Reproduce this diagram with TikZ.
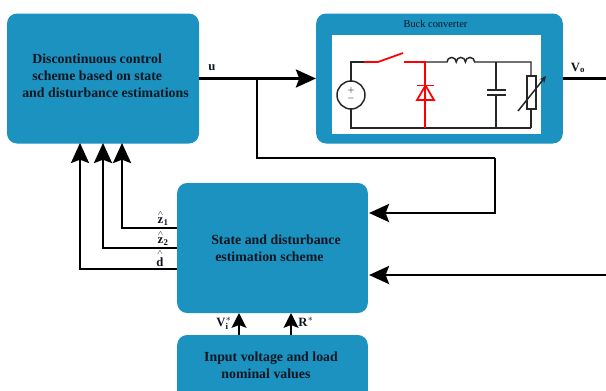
\documentclass[tikz,border=0pt]{standalone}
\usepackage{amsmath}
\usepackage{fontspec}
\setmainfont{Liberation Serif}
\usetikzlibrary{arrows.meta}
\definecolor{boxblue}{RGB}{27,146,192}
\definecolor{inktext}{RGB}{12,22,32}
\tikzset{
  block/.style={draw=none,fill=boxblue,rounded corners=7.5pt,minimum width=#1,minimum height=97.5pt},
  blocktext/.style={text=inktext,font=\bfseries\fontsize{10.4}{12.9}\selectfont,align=left},
  wire/.style={draw=black,line width=2pt},
  sig/.style={wire,-{Stealth[length=15pt,width=13.5pt,inset=2.5pt]}},
  sigsmall/.style={wire,-{Stealth[length=11pt,width=11pt,inset=2pt]}},
  sw/.style={line width=1.3pt,draw=red},
  ckt/.style={line width=1.1pt,draw=black!85},
  siglabel/.style={text=inktext,font=\bfseries\fontsize{9.5}{10}\selectfont}
}
\begin{document}
\begin{tikzpicture}[x=0.75pt,y=0.75pt]
\tikzstyle{every node}+=[inner sep=0pt]
\useasboundingbox (0,0) rectangle (606,-390);
\clip (0,0) rectangle (606,-390);
% blocks
\node [block=144pt] (control) at (103,-78.5) {};
\node [block=185pt] (buck) at (439.5,-78.5) {};
\node [block=143pt] (estimator) at (272.5,-248) {};
\node [block=143pt] (nominal) at (272.5,-400) {};
\node [fill=white,minimum width=156.75pt,minimum height=74.25pt] (plant) at (436.5,-84.5) {};
\draw (105.5,-76) node [blocktext] (controltext) {\hspace*{7.5pt}Discontinuous control\\\hspace*{7.5pt}scheme based on state\\and disturbance estimations};
\draw (276,-248) node [blocktext] (estimatortext) {State and disturbance\\\hspace*{3pt}estimation scheme};
\draw (271,-365) node [blocktext] (nominaltext) {Input voltage and load\\\hspace*{13pt}nominal values};
\draw (435.5,-24) node [text=inktext,font=\fontsize{7.8}{9}\selectfont] (bucktext) {Buck converter};
% free ends
\coordinate (branch) at (257,-78.5);
\coordinate (turn) at (495,-158);
\coordinate (fbin) at (606,-275);
\coordinate (vout) at (606,-78.5);
\coordinate (zoneout) at (177,-228);
\coordinate (ztwoout) at (177,-248);
\coordinate (dout) at (177,-269);
\coordinate (zonein) at (122,-143);
\coordinate (ztwoin) at (103,-143);
\coordinate (din) at (80,-143);
\coordinate (estu) at (369,-213);
\coordinate (estv) at (369,-275);
\coordinate (vin) at (239,-313);
\coordinate (rin) at (291,-313);
\coordinate (vfrom) at (239,-335);
\coordinate (rfrom) at (291,-335);
% connectors
\draw [sig] (control.east) -- (buck.west);
\draw [wire] (branch) |- (turn);
\draw [sig] (turn) |- (estu);
\draw [sig] (fbin) -- (estv);
\draw [wire] (buck.east) -- (vout);
\draw [sig] (zoneout) -| (zonein);
\draw [sig] (ztwoout) -| (ztwoin);
\draw [sig] (dout) -| (din);
\draw [sigsmall] (vfrom) -- (vin);
\draw [sigsmall] (rfrom) -- (rin);
% signal labels
\draw (212,-68) node [siglabel] (ulabel) {u};
\draw (578,-68) node [siglabel] (volabel) {V$_{\text{o}}$};
\draw (163,-218) node [siglabel] (zonelabel) {$\overset{\scriptscriptstyle\wedge}{\textbf{z}}_{\text{1}}$};
\draw (163,-238) node [siglabel] (ztwolabel) {$\overset{\scriptscriptstyle\wedge}{\textbf{z}}_{\text{2}}$};
\draw (160,-258) node [siglabel] (dlabel) {$\overset{\scriptscriptstyle\wedge}{\textbf{d}}$};
\draw (224,-323) node [siglabel] (vlabel) {V$_{\text{i}}^{*}$};
\draw (306,-322) node [siglabel] (rlabel) {R$^{*}$};
% circuit
\draw [ckt] (364,-62) -- (351,-62) -- (351,-81);
\draw [ckt] (351,-109) -- (351,-128) -- (531,-128);
\draw [ckt] (351,-95) circle (14);
\draw (351,-90.5) node [font=\fontsize{6}{6}\selectfont] (plus) {$+$};
\draw (351,-98.5) node [font=\fontsize{6}{6}\selectfont] (minus) {$-$};
\draw [sw] (364,-62) -- (378,-62) -- (403,-53);
\draw [sw] (404,-62) -- (426,-62);
\draw [sw] (425,-62) -- (425,-128);
\draw [sw] (417,-85.5) -- (434,-85.5);
\draw [sw] (425.5,-85.5) -- (417,-100) -- (434,-100) -- cycle;
\draw [ckt] (426,-62) -- (447,-62) arc [start angle=180,end angle=0,radius=4.6] arc [start angle=180,end angle=0,radius=4.6] arc [start angle=180,end angle=0,radius=4.6] -- (531,-62) -- (531,-76);
\draw [ckt] (531,-109) -- (531,-128);
\draw [ckt] (496,-62) -- (496,-90);
\draw [ckt] (496,-95) -- (496,-128);
\draw [ckt] (487,-90) -- (506,-90);
\draw [ckt] (487,-95) -- (506,-95);
\draw [ckt] (527,-76) rectangle (536,-109);
\draw [ckt,-{Stealth[length=5pt,width=4.5pt]}] (518,-111) -- (546,-76);
\end{tikzpicture}
\end{document}
